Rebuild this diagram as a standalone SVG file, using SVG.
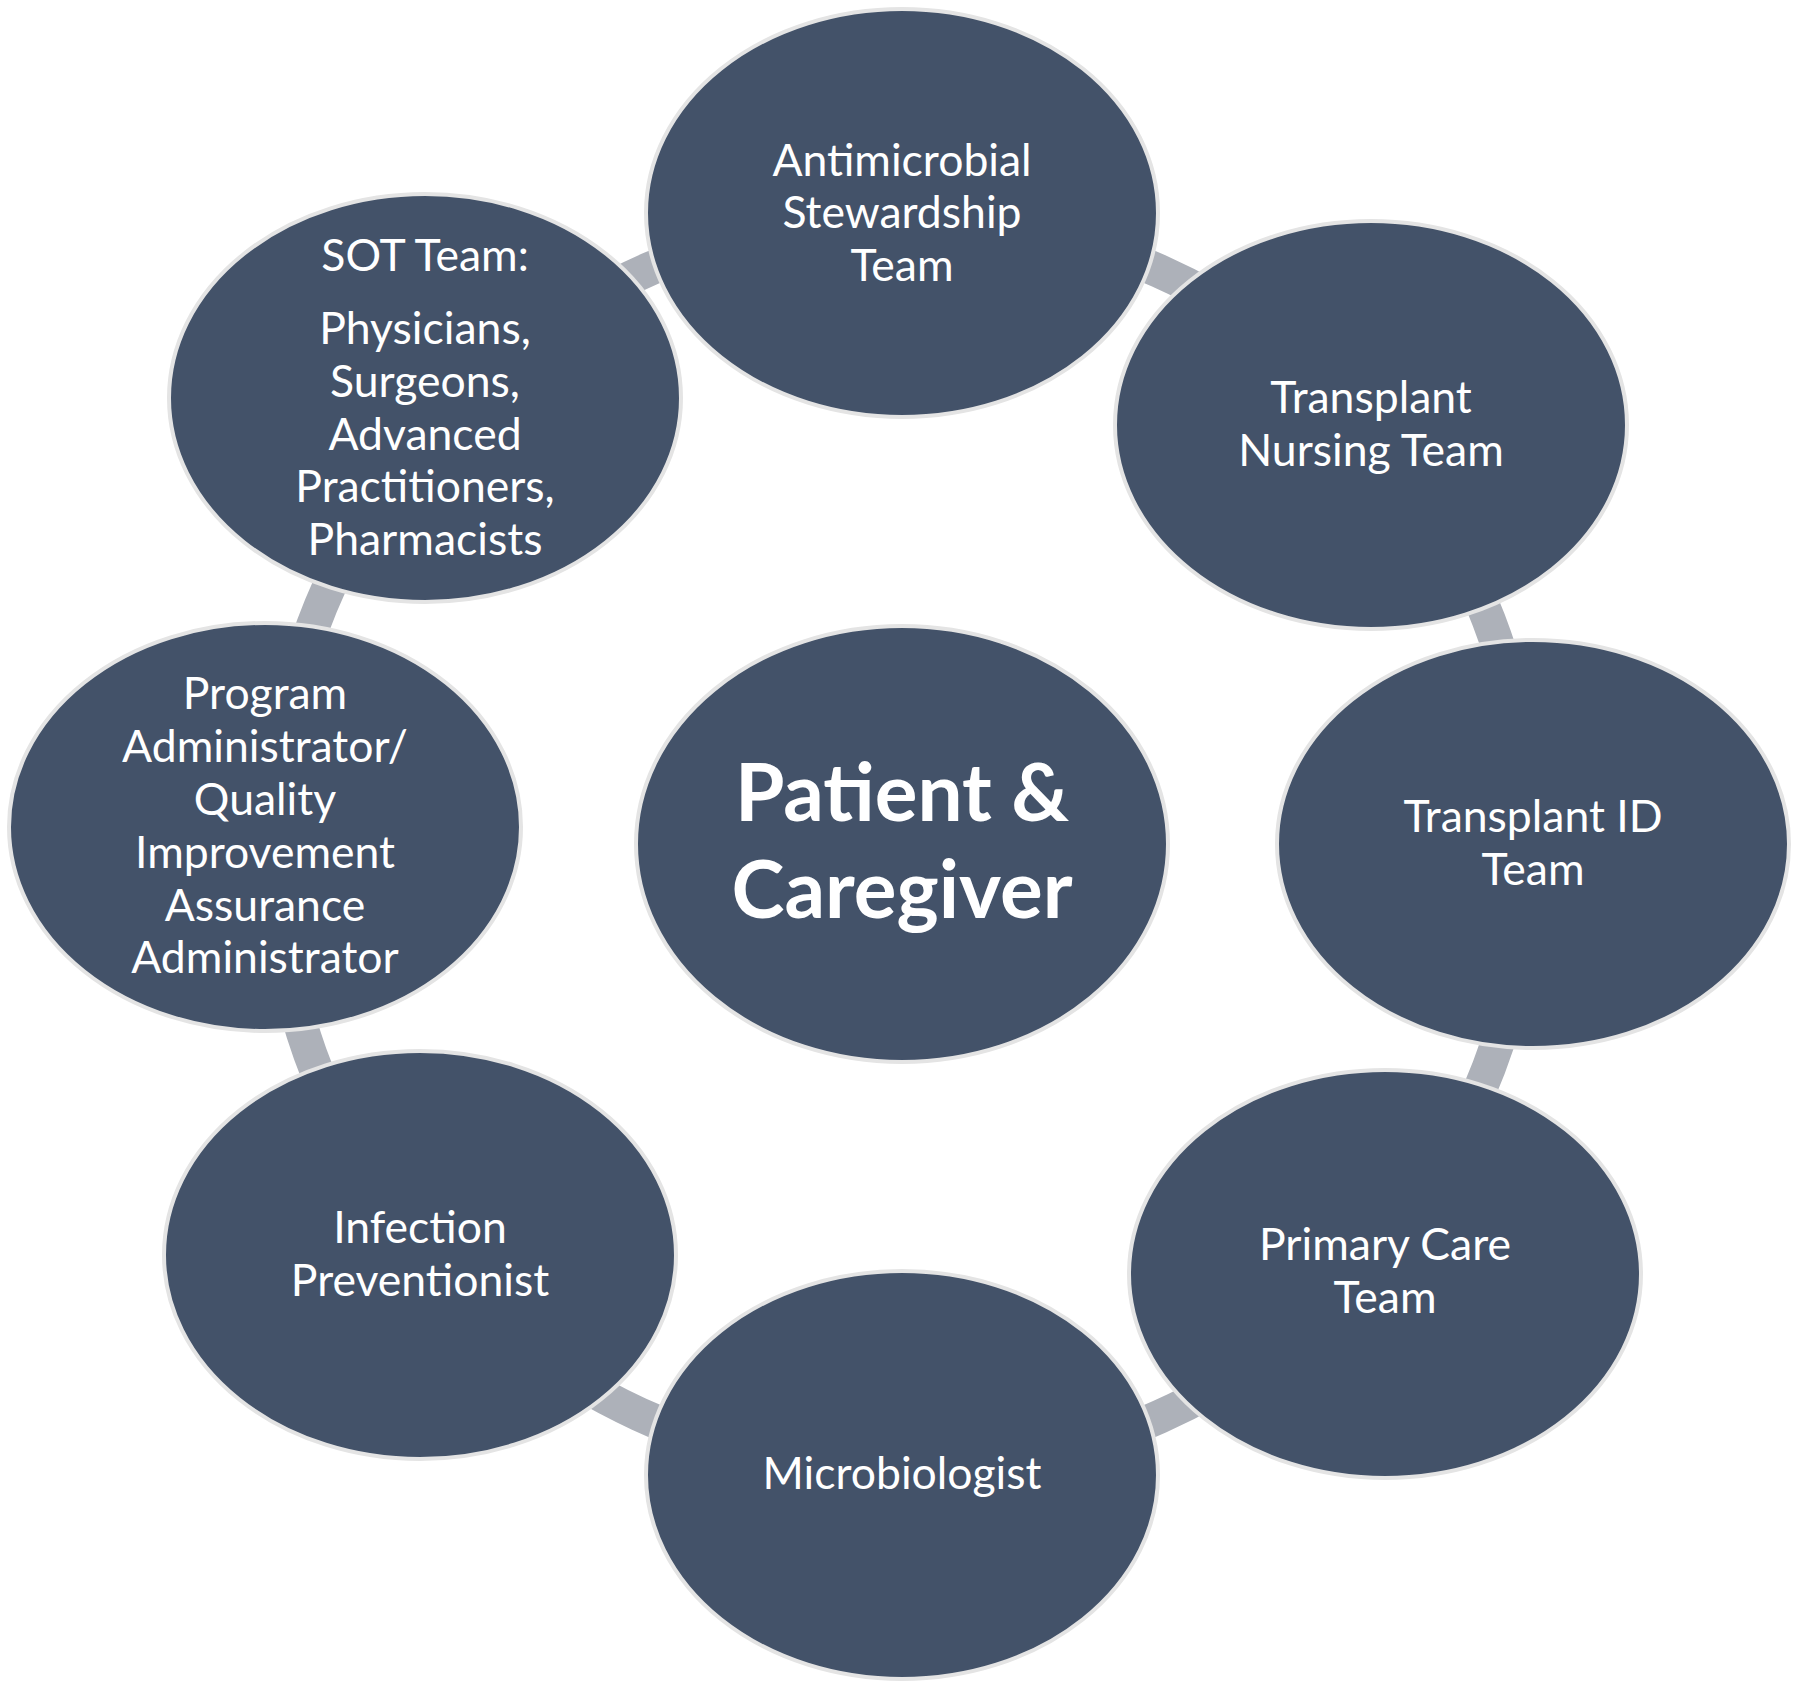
<svg xmlns="http://www.w3.org/2000/svg" width="1800" height="1690" viewBox="0 0 1800 1690">
<style>
.node{fill:#435269;stroke:#e4e4e4;stroke-width:4}
.conn{fill:none;stroke:#adb1b9;stroke-width:34}
.t{font-family:Lato,"Open Sans","Liberation Sans",sans-serif;font-size:44.5px;fill:#ffffff;text-anchor:middle}
.tb{font-family:Lato,"Open Sans","Liberation Sans",sans-serif;font-size:80px;font-weight:bold;fill:#ffffff;text-anchor:middle}
</style>
<rect width="1800" height="1690" fill="#ffffff"/>
<g id="connectors">
<path class="conn" d="M902,216 A628,628 0 0 1 1370.2,425.4"/>
<path class="conn" d="M1370.2,425.4 A628,628 0 0 1 1530,844"/>
<path class="conn" d="M1530,844 A628,628 0 0 1 1370.9,1261.8"/>
<path class="conn" d="M1370.9,1261.8 A628,628 0 0 1 902,1472"/>
<path class="conn" d="M902,1472 A628,628 0 0 1 424.5,1251.8"/>
<path class="conn" d="M424.5,1251.8 A628,628 0 0 1 274.2,827.6"/>
<path class="conn" d="M274.2,827.6 A628,628 0 0 1 443.4,414.9"/>
<path class="conn" d="M443.4,414.9 A628,628 0 0 1 902,216"/>
</g>
<g id="node-antimicrobial">
<ellipse class="node" cx="902" cy="213" rx="256" ry="204"/>
<text class="t" x="902" y="176">Antimicrobial</text>
<text class="t" x="902" y="228">Stewardship</text>
<text class="t" x="902" y="281">Team</text>
</g>
<g id="node-nursing">
<ellipse class="node" cx="1371" cy="425" rx="256" ry="204"/>
<text class="t" x="1371" y="413">Transplant</text>
<text class="t" x="1371" y="466">Nursing Team</text>
</g>
<g id="node-id">
<ellipse class="node" cx="1533" cy="844" rx="256" ry="204"/>
<text class="t" x="1533" y="832">Transplant ID</text>
<text class="t" x="1533" y="885">Team</text>
</g>
<g id="node-primary">
<ellipse class="node" cx="1385" cy="1274" rx="256" ry="204"/>
<text class="t" x="1385" y="1260">Primary Care</text>
<text class="t" x="1385" y="1313">Team</text>
</g>
<g id="node-micro">
<ellipse class="node" cx="902" cy="1475" rx="256" ry="204"/>
<text class="t" x="902" y="1489">Microbiologist</text>
</g>
<g id="node-infection">
<ellipse class="node" cx="420" cy="1255" rx="256" ry="204"/>
<text class="t" x="420" y="1243">Infection</text>
<text class="t" x="420" y="1296">Preventionist</text>
</g>
<g id="node-program">
<ellipse class="node" cx="265" cy="827" rx="256" ry="204"/>
<text class="t" x="265" y="709">Program</text>
<text class="t" x="265" y="762">Administrator/</text>
<text class="t" x="265" y="815">Quality</text>
<text class="t" x="265" y="868">Improvement</text>
<text class="t" x="265" y="921">Assurance</text>
<text class="t" x="265" y="973">Administrator</text>
</g>
<g id="node-sot">
<ellipse class="node" cx="425" cy="398" rx="256" ry="204"/>
<text class="t" x="425" y="271">SOT Team:</text>
<text class="t" x="425" y="344">Physicians,</text>
<text class="t" x="425" y="397">Surgeons,</text>
<text class="t" x="425" y="450">Advanced</text>
<text class="t" x="425" y="502">Practitioners,</text>
<text class="t" x="425" y="555">Pharmacists</text>
</g>
<g id="node-patient">
<ellipse class="node" cx="902" cy="844" rx="266" ry="218"/>
<text class="tb" x="902" y="821">Patient &amp;</text>
<text class="tb" x="902" y="918">Caregiver</text>
</g>
</svg>
